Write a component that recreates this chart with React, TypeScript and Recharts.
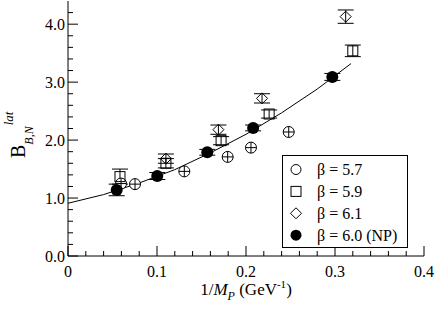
import React from 'react';
import { ScatterChart, Scatter, XAxis, YAxis, ErrorBar, Legend } from 'recharts';

// beta = 5.7 (open circles)
const b57X = [0.0596, 0.0753, 0.1307, 0.1794, 0.2056, 0.248];
const b57Y = [1.25, 1.24, 1.46, 1.71, 1.87, 2.14];

// beta = 5.9 (squares)
const b59X = [0.0584, 0.11, 0.172, 0.226, 0.32];
const b59Y = [1.37, 1.6, 1.99, 2.45, 3.54];
const b59E = [0.13, 0.08, 0.07, 0.07, 0.1];

// beta = 6.1 (diamonds)
const b61X = [0.11, 0.169, 0.218, 0.312];
const b61Y = [1.68, 2.18, 2.72, 4.13];
const b61E = [0.08, 0.08, 0.08, 0.115];

// beta = 6.0 (NP) (filled circles)
const b60X = [0.0547, 0.1003, 0.1565, 0.208, 0.297];
const b60Y = [1.14, 1.38, 1.79, 2.21, 3.09];
const b60E = [0.1, 0.06, 0.05, 0.05, 0.06];

// fit curve
const fitX = [0, 0.04, 0.08, 0.12, 0.16, 0.2, 0.24, 0.28, 0.318];
const fitY = [0.91, 1.06, 1.26, 1.49, 1.78, 2.1, 2.47, 2.88, 3.32];

const xTicks = [0, 0.02, 0.04, 0.06, 0.08, 0.1, 0.12, 0.14, 0.16, 0.18, 0.2, 0.22, 0.24, 0.26, 0.28, 0.3, 0.32, 0.34, 0.36, 0.38, 0.4];
const yTicks = [0, 0.2, 0.4, 0.6, 0.8, 1, 1.2, 1.4, 1.6, 1.8, 2, 2.2, 2.4, 2.6, 2.8, 3, 3.2, 3.4, 3.6, 3.8, 4, 4.2];

const legendLabels = ['β = 5.7', 'β = 5.9', 'β = 6.1', 'β = 6.0 (NP)'];

const zip = (xs: number[], ys: number[], es?: number[]) =>
  xs.map((x, i) => ({ x, y: ys[i], e: es ? es[i] : 0 }));

const FONT = '"Liberation Serif", "Times New Roman", serif';

const isMajorX = (v: number) => Math.abs(v * 10 - Math.round(v * 10)) < 1e-6;
const isMajorY = (v: number) => Math.abs(v - Math.round(v)) < 1e-6;

const BottomTick = (props: any) => {
  const { x, y, payload } = props;
  const major = isMajorX(payload.value);
  return (
    <g>
      <line x1={x} x2={x} y1={y} y2={y - (major ? 10 : 5)} stroke="#000" />
      {major && (
        <text x={x} y={y + 20.5} textAnchor="middle" fontSize={16} fontFamily={FONT} fill="#000">
          {payload.value === 0 ? '0' : payload.value.toFixed(1)}
        </text>
      )}
    </g>
  );
};

const TopTick = (props: any) => {
  const { x, y, payload } = props;
  const major = isMajorX(payload.value);
  return <line x1={x} x2={x} y1={y} y2={y + (major ? 10 : 5)} stroke="#000" />;
};

const LeftTick = (props: any) => {
  const { x, y, payload } = props;
  const major = isMajorY(payload.value);
  return (
    <g>
      <line x1={x} x2={x + (major ? 10 : 5)} y1={y} y2={y} stroke="#000" />
      {major && (
        <text x={x - 3} y={y + 6} textAnchor="end" fontSize={16} fontFamily={FONT} fill="#000">
          {payload.value.toFixed(1)}
        </text>
      )}
    </g>
  );
};

const RightTick = (props: any) => {
  const { x, y, payload } = props;
  const major = isMajorY(payload.value);
  return <line x1={x} x2={x - (major ? 10 : 5)} y1={y} y2={y} stroke="#000" />;
};

const CrossCircle = ({ cx, cy }: any) => (
  <g>
    <circle cx={cx} cy={cy} r={5.5} fill="#fff" stroke="#000" />
    <line x1={cx - 5.5} x2={cx + 5.5} y1={cy} y2={cy} stroke="#000" />
    <line x1={cx} x2={cx} y1={cy - 5.5} y2={cy + 5.5} stroke="#000" />
  </g>
);

const Square = ({ cx, cy }: any) => (
  <rect x={cx - 5} y={cy - 5} width={10} height={10} fill="none" stroke="#000" />
);

const Diamond = ({ cx, cy }: any) => (
  <polygon
    points={`${cx},${cy - 5.5} ${cx + 5.5},${cy} ${cx},${cy + 5.5} ${cx - 5.5},${cy}`}
    fill="none"
    stroke="#000"
  />
);

const Filled = ({ cx, cy }: any) => <circle cx={cx} cy={cy} r={6} fill="#000" />;

const NoDot = () => <g />;

const XTitle = ({ viewBox }: any) => {
  const { x, y, width } = viewBox;
  return (
    <text x={x + width / 2} y={y + 39} textAnchor="middle" fontSize={17} fontFamily={FONT} fill="#000">
      1/<tspan fontStyle="italic">M</tspan>
      <tspan fontStyle="italic" fontSize={12} dy={5}>P</tspan>
      <tspan dy={-5}> (GeV</tspan>
      <tspan fontSize={11} dy={-7}>-1</tspan>
      <tspan dy={7}>)</tspan>
    </text>
  );
};

const YTitle = ({ viewBox }: any) => {
  const { x, y } = viewBox;
  const tx = x + 25;
  const ty = y + 157;
  return (
    <text x={tx} y={ty} transform={`rotate(-90, ${tx}, ${ty})`} fontSize={20} fontFamily={FONT} fill="#000">
      B
      <tspan fontStyle="italic" fontSize={12} dy={8}>B,N</tspan>
      <tspan fontStyle="italic" fontSize={13} dy={-20} dx={1}>lat</tspan>
    </text>
  );
};

const legendSymbols = [
  (cx: number, cy: number) => <circle cx={cx} cy={cy} r={5} fill="#fff" stroke="#000" />,
  (cx: number, cy: number) => <rect x={cx - 5} y={cy - 5} width={10} height={10} fill="#fff" stroke="#000" />,
  (cx: number, cy: number) => (
    <polygon points={`${cx},${cy - 5.5} ${cx + 5.5},${cy} ${cx},${cy + 5.5} ${cx - 5.5},${cy}`} fill="#fff" stroke="#000" />
  ),
  (cx: number, cy: number) => <circle cx={cx} cy={cy} r={5.5} fill="#000" />,
];

const renderLegend = () => (
  <svg width={126} height={93}>
    <rect x={0.5} y={0.5} width={125} height={92} fill="#fff" stroke="#000" />
    {legendLabels.map((label, i) => {
      const cy = 14.5 + i * 21.9;
      return (
        <g key={label}>
          {legendSymbols[i](14, cy)}
          <text x={35} y={cy + 5.5} fontSize={16} fontFamily={FONT} fill="#000">
            {label}
          </text>
        </g>
      );
    })}
  </svg>
);

export default function App() {
  return (
    <div style={{ position: 'absolute', left: 0, top: 0, width: 436, height: 313, background: '#fff' }}>
      <ScatterChart width={436} height={313} margin={{ top: 1, right: 12, bottom: 0, left: 0 }}>
        <XAxis
          xAxisId="b"
          type="number"
          dataKey="x"
          domain={[0, 0.4]}
          ticks={xTicks}
          interval={0}
          height={57}
          tickSize={0}
          tickMargin={0}
          tickLine={false}
          axisLine={{ stroke: '#000' }}
          tick={<BottomTick />}
          label={{ content: <XTitle /> } as any}
        />
        <XAxis
          xAxisId="t"
          orientation="top"
          type="number"
          dataKey="x"
          domain={[0, 0.4]}
          ticks={xTicks}
          interval={0}
          height={0}
          tickSize={0}
          tickMargin={0}
          tickLine={false}
          axisLine={{ stroke: '#000' }}
          tick={<TopTick />}
        />
        <YAxis
          yAxisId="l"
          type="number"
          dataKey="y"
          domain={[0, 4.4]}
          ticks={yTicks}
          interval={0}
          width={68}
          tickSize={0}
          tickMargin={0}
          tickLine={false}
          axisLine={{ stroke: '#000' }}
          tick={<LeftTick />}
          label={{ content: <YTitle /> } as any}
        />
        <YAxis
          yAxisId="r"
          orientation="right"
          type="number"
          dataKey="y"
          domain={[0, 4.4]}
          ticks={yTicks}
          interval={0}
          width={0}
          tickSize={0}
          tickMargin={0}
          tickLine={false}
          axisLine={{ stroke: '#000' }}
          tick={<RightTick />}
        />
        <Scatter
          xAxisId="b"
          yAxisId="l"
          data={zip(fitX, fitY)}
          line={{ stroke: '#000', strokeWidth: 1 }}
          lineType="joint"
          shape={<NoDot />}
          isAnimationActive={false}
        />
        <Scatter xAxisId="b" yAxisId="l" data={zip(b57X, b57Y)} shape={<CrossCircle />} isAnimationActive={false} />
        <Scatter xAxisId="b" yAxisId="l" data={zip(b59X, b59Y, b59E)} shape={<Square />} isAnimationActive={false}>
          <ErrorBar dataKey="e" direction="y" width={8} stroke="#000" strokeWidth={1} />
        </Scatter>
        <Scatter xAxisId="b" yAxisId="l" data={zip(b61X, b61Y, b61E)} shape={<Diamond />} isAnimationActive={false}>
          <ErrorBar dataKey="e" direction="y" width={8} stroke="#000" strokeWidth={1} />
        </Scatter>
        <Scatter xAxisId="b" yAxisId="l" data={zip(b60X, b60Y, b60E)} shape={<Filled />} isAnimationActive={false}>
          <ErrorBar dataKey="e" direction="y" width={8} stroke="#000" strokeWidth={1} />
        </Scatter>
        <Legend
          layout="vertical"
          align="center"
          verticalAlign="middle"
          content={renderLegend}
          wrapperStyle={{ position: 'absolute', left: 282, top: 155, width: 126, height: 93 }}
        />
      </ScatterChart>
    </div>
  );
}
